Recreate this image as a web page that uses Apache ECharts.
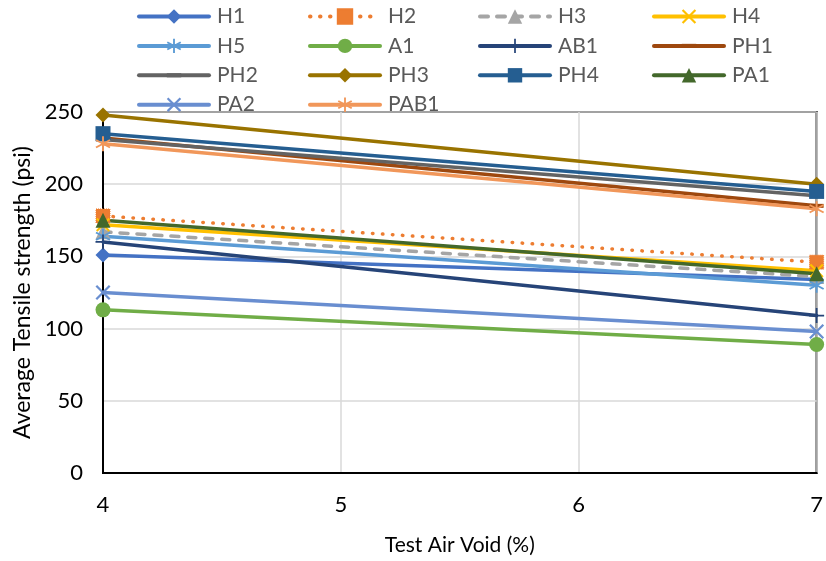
<!DOCTYPE html>
<html>
<head>
<meta charset="utf-8">
<script src="https://cdn.jsdelivr.net/npm/echarts@6/dist/echarts.min.js"></script>
<style>
html,body{margin:0;padding:0;background:#fff;}
#chart{width:826px;height:561px;}
</style>
</head>
<body>
<div id="chart"></div>
<script>
// ---- data ----
const airVoids = [4, 7];
const seriesNames = ['H1','H2','H3','H4','H5','A1','AB1','PH1','PH2','PH3','PH4','PA1','PA2','PAB1'];
const H1   = [151, 134];
const H2   = [178, 146];
const H3   = [167, 136];
const H4   = [172, 140];
const H5   = [164, 130];
const A1   = [113, 89];
const AB1  = [160, 109];
const PH1  = [232, 185];
const PH2  = [231, 192];
const PH3  = [248, 200];
const PH4  = [235, 195];
const PA1  = [175, 138];
const PA2  = [125, 98];
const PAB1 = [228, 183];
const yTicks = [0, 50, 100, 150, 200, 250];
const xTicks = [4, 5, 6, 7];

// ---- marker shapes ----
function rotRect(deg, w, l) {
  const a = deg * Math.PI / 180, c = Math.cos(a), s = Math.sin(a);
  const pts = [[-w,-l],[w,-l],[w,l],[-w,l]].map(([x,y]) => [x*c - y*s, x*s + y*c]);
  return 'M' + pts.map(p => p[0].toFixed(3) + ',' + p[1].toFixed(3)).join(' L') + ' Z';
}
const plusPath = 'path://' + rotRect(0, 1.2, 10) + ' ' + rotRect(90, 1.2, 10);
const xPath = 'path://' + rotRect(45, 1.2, 10) + ' ' + rotRect(-45, 1.2, 10);
const starPath = 'path://' + rotRect(0, 1.2, 10) + ' ' + rotRect(60, 1.2, 10) + ' ' + rotRect(120, 1.2, 10);
// short horizontal dash inside an invisible square box
const dashPath = 'path://M0,-5 M0,0 L14,0 L14,4 L0,4 Z M14,9';

const values = {H1,H2,H3,H4,H5,A1,AB1,PH1,PH2,PH3,PH4,PA1,PA2,PAB1};
const styles = {
  H1:   {color:'#4472C4', symbol:'diamond', size:15},
  H2:   {color:'#ED7D31', symbol:'rect', size:14, type:[0.5, 9.5]},
  H3:   {color:'#A5A5A5', symbol:'triangle', size:15, type:[8, 9]},
  H4:   {color:'#FFC000', symbol:xPath, size:14},
  H5:   {color:'#5B9BD5', symbol:starPath, size:15},
  A1:   {color:'#70AD47', symbol:'circle', size:15},
  AB1:  {color:'#264478', symbol:plusPath, size:15},
  PH1:  {color:'#9E480E', symbol:dashPath, size:14},
  PH2:  {color:'#636363', symbol:dashPath, size:14},
  PH3:  {color:'#997300', symbol:'diamond', size:15},
  PH4:  {color:'#255E91', symbol:'rect', size:15},
  PA1:  {color:'#43682B', symbol:'triangle', size:15},
  PA2:  {color:'#698ED0', symbol:xPath, size:15},
  PAB1: {color:'#F1975A', symbol:starPath, size:15}
};

const series = seriesNames.map(n => {
  const st = styles[n];
  return {
    name: n,
    type: 'line',
    data: airVoids.map((x, i) => [x, values[n][i]]),
    symbol: st.symbol,
    symbolSize: st.size,
    showSymbol: true,
    lineStyle: {color: st.color, width: 3.5, type: st.type || 'solid', cap: 'round'},
    itemStyle: {color: st.color, borderColor: st.color, borderWidth: n === 'H2' ? 1 : 0, borderType: n === 'H2' ? 'dotted' : 'solid'},
    emphasis: {disabled: true},
    animation: false
  };
});

const legendCols = [
  ['H1','H5','PH2','PA2'],
  ['H2','A1','PH3','PAB1'],
  ['H3','AB1','PH4'],
  ['H4','PH1','PA1']
];
const legendLefts = [132, 303, 473, 647];
const legends = legendCols.map((col, i) => ({
  data: col,
  orient: 'vertical',
  left: legendLefts[i],
  top: 1,
  itemWidth: 70,
  itemHeight: 18,
  itemGap: 8.4,
  selectedMode: false,
  lineStyle: {width: 4, cap: 'round'},
  textStyle: {fontFamily: 'Lato', fontSize: 21, color: '#595959', lineHeight: 18, padding: [0,0,0,3]}
}));

const chart = echarts.init(document.getElementById('chart'), null, {renderer: 'canvas'});
chart.setOption({
  backgroundColor: '#fff',
  animation: false,
  legend: legends,
  grid: {left: 103, right: 9, top: 112, bottom: 86, show: true, borderColor: '#000', borderWidth: 2, backgroundColor: 'transparent'},
  xAxis: {
    type: 'value', min: xTicks[0], max: xTicks[xTicks.length-1], interval: 1,
    name: 'Test Air Void (%)', nameLocation: 'middle', nameGap: 62,
    nameTextStyle: {fontFamily: 'Lato', fontSize: 21, color: '#000'},
    axisLine: {lineStyle: {color: '#000', width: 2}},
    axisTick: {show: false},
    axisLabel: {fontFamily: 'Lato', fontSize: 22, color: '#000', margin: 21},
    splitLine: {show: true, lineStyle: {color: '#D9D9D9', width: 1.5}}
  },
  yAxis: {
    type: 'value', min: yTicks[0], max: yTicks[yTicks.length-1], interval: 50,
    name: 'Average Tensile strength (psi)', nameLocation: 'middle', nameGap: 68,
    nameTextStyle: {fontFamily: 'Lato', fontSize: 23, color: '#000'},
    axisLine: {show: true, lineStyle: {color: '#000', width: 2}},
    axisTick: {show: false},
    axisLabel: {fontFamily: 'Lato', fontSize: 22, color: '#000', margin: 20},
    splitLine: {show: true, lineStyle: {color: '#D9D9D9', width: 1.5}}
  },
  series: series
});
</script>
</body>
</html>
